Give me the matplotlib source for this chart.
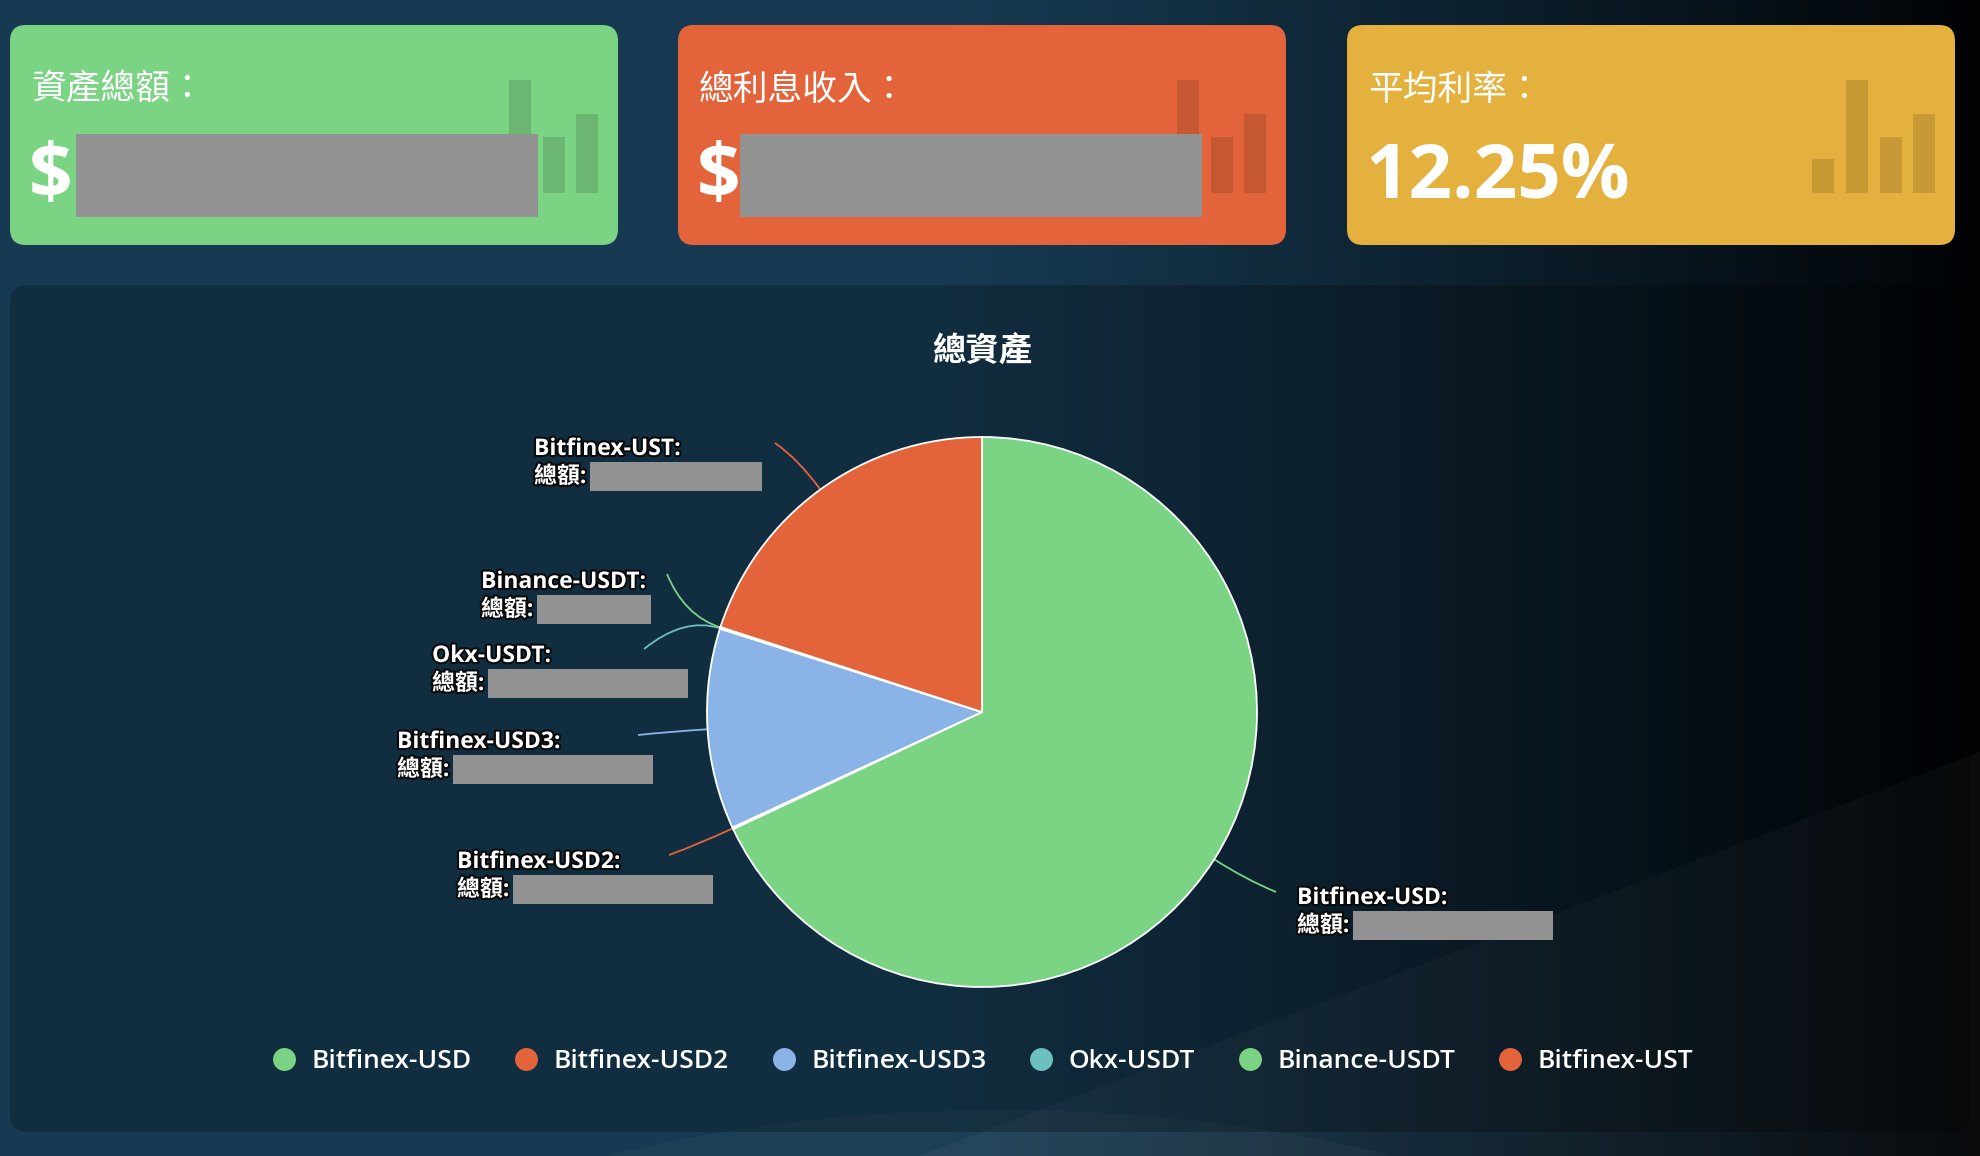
import numpy as np
import matplotlib
matplotlib.use('Agg')
import matplotlib.pyplot as plt
import matplotlib.patheffects as pe
from matplotlib.patches import FancyBboxPatch, Rectangle, Polygon, Ellipse, PathPatch
from matplotlib.path import Path
from matplotlib.lines import Line2D

# ---- data ----
names = ['Bitfinex-USD', 'Bitfinex-USD2', 'Bitfinex-USD3', 'Okx-USDT', 'Binance-USDT', 'Bitfinex-UST']
shares = [68.0, 0.1, 11.8, 0.05, 0.05, 20.0]
colors = ['#7bd384', '#e3643a', '#8ab4e8', '#6cc0c0', '#7bd384', '#e3643a']

card_titles = ['資產總額：', '總利息收入：', '平均利率：']
card_values = ['$', '$', '12.25%']
card_colors = ['#7bd384', '#e3643a', '#e5b13e']
icon_bars = [30, 100, 50, 70]

chart_title = '總資產'
amount_label = '總額:'

LATIN = ['Open Sans', 'Noto Sans CJK TC', 'DejaVu Sans']
CJK = ['Noto Sans CJK TC', 'DejaVu Sans']

W, H = 1980, 1156
fig = plt.figure(figsize=(W / 100, H / 100), dpi=100)
ax = fig.add_axes([0, 0, 1, 1])
ax.set_xlim(0, W)
ax.set_ylim(H, 0)
ax.axis('off')

# background gradient (dark navy fading to black on the right)
t = np.clip((np.arange(W) - 950) / 1030, 0, 1) ** 1.1
t = np.broadcast_to(t[None, :], (H, W))
c0 = np.array([0x17, 0x3a, 0x52]) / 255
c1 = np.array([0x01, 0x03, 0x05]) / 255
bg = c0 * (1 - t[..., None]) + c1 * t[..., None]
ax.imshow(bg, extent=(0, W, H, 0), aspect='auto', zorder=0)
ax.add_patch(Polygon([[1980, 752], [1300, 1011], [919, 1156], [1980, 1156]],
                     closed=True, fc='white', alpha=0.035, lw=0, zorder=0.5))
ax.add_patch(Ellipse((1000, 1420), 1500, 620, fc='white', alpha=0.03, lw=0, zorder=0.5))

# chart panel
ax.add_patch(FancyBboxPatch((10, 285), 1960, 847, boxstyle='round,pad=0,rounding_size=18',
                            fc='black', alpha=0.22, lw=0, zorder=1))

# ---- KPI cards ----
card_left = [10, 678, 1347]
redact = [(66, 462), (62, 462), None]
bar_offsets = [476, 510, 544, 577]
for i in range(3):
    x0 = card_left[i]
    ax.add_patch(FancyBboxPatch((x0, 25), 608, 220, boxstyle='round,pad=0,rounding_size=16',
                                fc=card_colors[i], lw=0, zorder=2))
    ax.bar([x0 + o for o in bar_offsets], [-v * 1.13 for v in icon_bars], bottom=193,
           width=22, color='black', alpha=0.13, zorder=3)
    ax.text(x0 + 21, 90, card_titles[i], family=CJK, fontsize=25, color='white',
            va='center', ha='left', zorder=5)
    ax.text(x0 + 19, 197, card_values[i], family=LATIN, fontsize=55, fontweight='bold',
            color='white', va='baseline', ha='left', zorder=5)
    if redact[i] is not None:
        ax.add_patch(Rectangle((x0 + redact[i][0], 134), redact[i][1], 83,
                               fc='#929292', lw=0, zorder=6))

# ---- pie ----
cx, cy, R = 982, 712, 275
ax.text(cx, 351, chart_title, family=CJK, fontsize=24, fontweight='bold', color='white',
        ha='center', va='center', zorder=5)
pax = fig.add_axes([(cx - R) / W, (H - cy - R) / H, 2 * R / W, 2 * R / H])
wedges, _ = pax.pie(shares, colors=colors, startangle=90, counterclock=False, radius=1,
                    wedgeprops=dict(edgecolor='white', linewidth=1.3))
for w in wedges:
    w.set_clip_on(False)
pax.set_xlim(-1, 1)
pax.set_ylim(-1, 1)
pax.axis('off')

# label layout: text left, first line y, redaction width, leader end
label_layout = {
    'Bitfinex-USD': (1297, 898, 200, (1276, 892)),
    'Bitfinex-USD2': (457, 862, 200, (669, 855)),
    'Bitfinex-USD3': (397, 742, 200, (638, 735)),
    'Okx-USDT': (432, 656, 200, (644, 649)),
    'Binance-USDT': (481, 582, 114, (667, 574)),
    'Bitfinex-UST': (534, 449, 172, (775, 443)),
}
stroke = [pe.withStroke(linewidth=3, foreground='#0a0a0a')]
for w, name, col in zip(wedges, names, colors):
    mid = np.deg2rad((w.theta1 + w.theta2) / 2)
    ex, ey = cx + R * np.cos(mid), cy - R * np.sin(mid)
    kx, ky = ex + 38 * np.cos(mid), ey - 38 * np.sin(mid)
    tx, ty, rw, (lx, ly) = label_layout[name]
    path = Path([(ex, ey), (kx, ky), (lx, ly)], [Path.MOVETO, Path.CURVE3, Path.CURVE3])
    ax.add_patch(PathPatch(path, fc='none', ec=col, lw=1.3, zorder=3))
    ax.text(tx, ty, name + ':', family=LATIN, fontsize=16.5, fontweight='bold', color='white',
            ha='left', va='center', path_effects=stroke, zorder=5)
    ax.text(tx, ty + 28, amount_label, family=LATIN, fontsize=16.5, fontweight='bold',
            color='white', ha='left', va='center', path_effects=stroke, zorder=5)
    ax.add_patch(Rectangle((tx + 56, ty + 13), rw, 29, fc='#929292', lw=0, zorder=6))

# legend
handles = [Line2D([], [], marker='o', ls='', markersize=16.5, markerfacecolor=c,
                  markeredgewidth=0) for c in colors]
fig.legend(handles, names, loc='center', bbox_to_anchor=(cx / W, 1 - 1062 / H), ncol=6,
           frameon=False, handlelength=1.0, handletextpad=0.55, columnspacing=1.57,
           labelcolor='white', prop=dict(family=LATIN, size=19, weight='semibold'))

fig.savefig('out.png', dpi=100)
